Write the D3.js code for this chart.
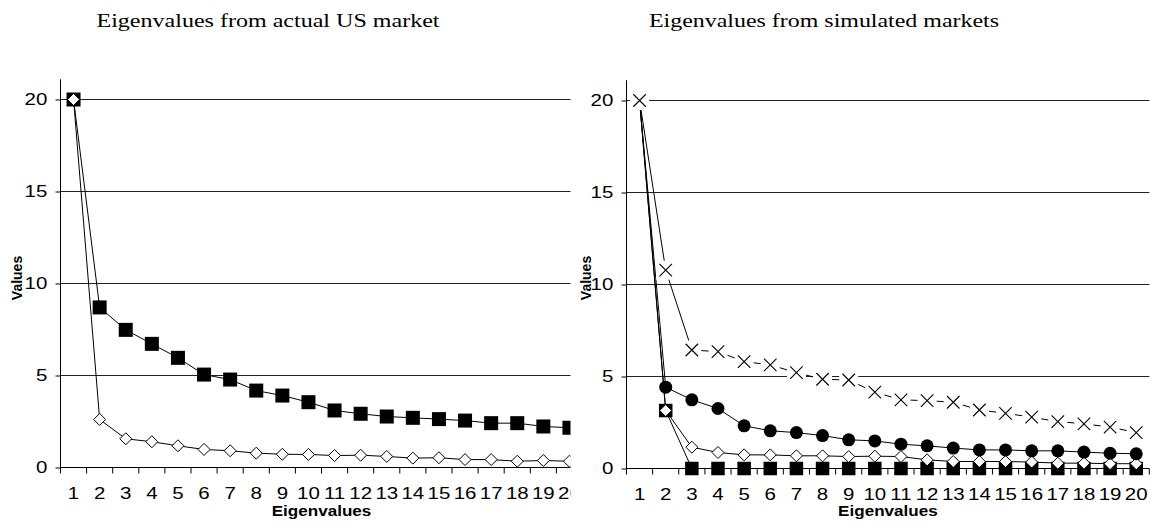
<!DOCTYPE html>
<html>
<head>
<meta charset="utf-8">
<script src="https://cdn.jsdelivr.net/npm/d3@7"></script>
<style>
  html, body { margin: 0; padding: 0; background: #fff; }
  svg { display: block; }
</style>
</head>
<body>
<svg id="chart" width="1154" height="525"></svg>
<script>
// ---------- data ----------
const categories = ["1","2","3","4","5","6","7","8","9","10","11","12","13","14","15","16","17","18","19","20"];
const yTicks = [0, 5, 10, 15, 20];

const leftTitle = "Eigenvalues from actual US market";
const rightTitle = "Eigenvalues from simulated markets";
const xTitle = "Eigenvalues";
const yTitle = "Values";

// actual US market
const usSquare  = [20, 8.70, 7.48, 6.72, 5.96, 5.05, 4.78, 4.18, 3.91, 3.55, 3.10, 2.92, 2.77, 2.70, 2.63, 2.55, 2.41, 2.41, 2.23, 2.16];
const usDiamond = [20, 2.61, 1.56, 1.40, 1.18, 0.98, 0.91, 0.78, 0.72, 0.71, 0.65, 0.67, 0.60, 0.51, 0.53, 0.43, 0.43, 0.34, 0.38, 0.34];

// simulated markets
const simSquare  = [20, 3.15, 0, 0, 0, 0, 0, 0, 0, 0, 0, 0, 0, 0, 0, 0, 0, 0, 0, 0];
const simDiamond = [20, 3.15, 1.16, 0.87, 0.74, 0.74, 0.69, 0.69, 0.65, 0.67, 0.65, 0.47, 0.38, 0.38, 0.38, 0.35, 0.29, 0.29, 0.26, 0.26];
const simCircle  = [20, 4.42, 3.73, 3.26, 2.32, 2.05, 1.95, 1.79, 1.56, 1.50, 1.32, 1.23, 1.11, 1.01, 1.01, 0.96, 0.96, 0.89, 0.83, 0.80];
const simCross   = [20, 10.78, 6.44, 6.35, 5.81, 5.63, 5.21, 4.85, 4.81, 4.15, 3.73, 3.69, 3.60, 3.18, 3.00, 2.79, 2.55, 2.43, 2.25, 1.95];

// ---------- drawing ----------
const svg = d3.select("#chart");
const SX = 1.28; // horizontal stretch of the sans text
const SANS = "'Liberation Sans', Arial, sans-serif";

function panel(cfg) {
  const root = svg.append("g");
  if (cfg.clipRight) {
    svg.append("clipPath").attr("id", cfg.id + "-clip")
      .append("rect").attr("x", 0).attr("y", 0).attr("width", cfg.clipRight).attr("height", 525);
    root.attr("clip-path", `url(#${cfg.id}-clip)`);
  }
  const x = d3.scaleBand().domain(categories).range(cfg.xRange).paddingInner(0).paddingOuter(0);
  const y = d3.scaleLinear().domain([0, 20]).range(cfg.yRange);
  const cx = d => x(d) + x.bandwidth() / 2;

  // gridlines
  root.append("g").selectAll("line").data(yTicks.filter(t => t > 0)).join("line")
    .attr("x1", cfg.xRange[0]).attr("x2", cfg.xRange[1])
    .attr("y1", d => y(d)).attr("y2", d => y(d))
    .attr("stroke", "#222").attr("stroke-width", 1);

  // y axis
  const yAxis = d3.axisLeft(y).tickValues(yTicks).tickSize(5).tickPadding(5.3).tickSizeOuter(0);
  const gy = root.append("g").attr("transform", `translate(${cfg.xRange[0]},0)`).call(yAxis);
  gy.select(".domain").remove();
  gy.selectAll(".tick line").attr("stroke", "#000");
  gy.selectAll(".tick text")
    .attr("font-family", SANS)
    .attr("font-size", 16).attr("fill", "#000")
    .attr("transform", `scale(${SX},1)`);
  root.append("line")
    .attr("x1", cfg.xRange[0]).attr("x2", cfg.xRange[0])
    .attr("y1", y(0)).attr("y2", y(21.1))
    .attr("stroke", "#000");

  // x axis: labels from d3 axis, ticks at category boundaries
  const xAxis = d3.axisBottom(x).tickSize(0).tickPadding(20);
  const gx = root.append("g").attr("transform", `translate(0,${y(0)})`).call(xAxis);
  gx.select(".domain").remove();
  gx.selectAll(".tick text")
    .attr("font-family", SANS)
    .attr("font-size", 16).attr("fill", "#000")
    .attr("transform", `scale(${SX},1)`);
  const bounds = categories.map(c => x(c)).concat([x.range()[1]]);
  root.append("g").selectAll("line").data(bounds).join("line")
    .attr("x1", d => d).attr("x2", d => d)
    .attr("y1", y(0)).attr("y2", y(0) + 6)
    .attr("stroke", "#000");
  root.append("line")
    .attr("x1", cfg.xRange[0]).attr("x2", cfg.xRange[1])
    .attr("y1", y(0)).attr("y2", y(0))
    .attr("stroke", "#000");

  // axis titles
  root.append("text")
    .attr("transform", `translate(${(cfg.xRange[0] + cfg.xRange[1]) / 2},${cfg.xTitleY}) scale(1.22,1)`)
    .attr("text-anchor", "middle")
    .attr("font-family", SANS)
    .attr("font-weight", "bold").attr("font-size", 14)
    .text(xTitle);
  root.append("text")
    .attr("transform", `translate(${cfg.yTitleX},278) rotate(-90)`)
    .attr("text-anchor", "middle")
    .attr("font-family", SANS)
    .attr("font-weight", "bold").attr("font-size", 14)
    .text(yTitle);

  const line = d3.line().x((d, i) => cx(categories[i])).y(d => y(d));
  const plot = root.append("g");

  cfg.series.forEach(s => {
    const g = plot.append("g");
    g.append("path").datum(s.values).attr("d", line)
      .attr("fill", "none").attr("stroke", "#000").attr("stroke-width", 1);
    const pts = s.values.map((v, i) => ({ x: cx(categories[i]), y: y(v) }));
    const m = g.selectAll("g.m").data(pts).join("g").attr("class", "m")
      .attr("transform", d => `translate(${d.x},${d.y})`);
    if (s.marker === "square") {
      m.append("rect").attr("x", -s.size / 2).attr("y", -s.size / 2)
        .attr("width", s.size).attr("height", s.size).attr("fill", "#000");
    } else if (s.marker === "diamond") {
      const h = s.size / 2;
      m.append("path").attr("d", `M0,${-h}L${h},0L0,${h}L${-h},0Z`)
        .attr("fill", "#fff").attr("stroke", "#000").attr("stroke-width", 1);
    } else if (s.marker === "circle") {
      m.append("circle").attr("r", s.size / 2).attr("fill", "#000");
    } else if (s.marker === "cross") {
      m.append("rect").attr("x", -9.5).attr("y", -9.5).attr("width", 19).attr("height", 19).attr("fill", "#fff");
      const h = s.size / 2;
      m.append("path").attr("d", `M${-h},${-h}L${h},${h}M${-h},${h}L${h},${-h}`)
        .attr("stroke", "#000").attr("stroke-width", 1.1).attr("fill", "none");
    }
  });
}

// titles (serif, like the LaTeX document)
svg.append("text").attr("x", 268).attr("y", 27).attr("text-anchor", "middle")
  .attr("font-family", "'Liberation Serif', 'DejaVu Serif', serif").attr("font-size", 19)
  .attr("textLength", 343).attr("lengthAdjust", "spacingAndGlyphs")
  .text(leftTitle);
svg.append("text").attr("x", 824).attr("y", 27).attr("text-anchor", "middle")
  .attr("font-family", "'Liberation Serif', 'DejaVu Serif', serif").attr("font-size", 19)
  .attr("textLength", 350).attr("lengthAdjust", "spacingAndGlyphs")
  .text(rightTitle);

panel({
  id: "left",
  xRange: [60.5, 582.5],
  yRange: [467.5, 99.5],
  clipRight: 570.5,
  xTitleY: 516,
  yTitleX: 22,
  series: [
    { values: usSquare, marker: "square", size: 14 },
    { values: usDiamond, marker: "diamond", size: 12 }
  ]
});

panel({
  id: "right",
  xRange: [626.5, 1149.3],
  yRange: [468.5, 100.5],
  clipRight: null,
  xTitleY: 516,
  yTitleX: 591,
  series: [
    { values: simSquare, marker: "square", size: 13.5 },
    { values: simDiamond, marker: "diamond", size: 12 },
    { values: simCircle, marker: "circle", size: 13 },
    { values: simCross, marker: "cross", size: 12.5 }
  ]
});
</script>
</body>
</html>
